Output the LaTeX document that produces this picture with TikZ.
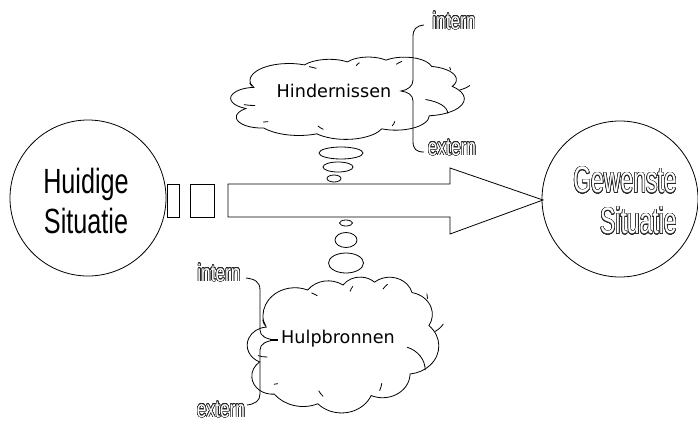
\documentclass[tikz,border=0pt]{standalone}
\usepackage{fontspec}
\setmainfont{Liberation Sans}
\newfontfamily\narrowfont{Liberation Sans}[FakeStretch=0.72]
\newfontfamily\slimfont{Liberation Sans}[FakeStretch=0.62]
\newfontfamily\cloudfont{DejaVu Sans}
\usepackage{contour}
\contourlength{0.55pt}
\contournumber{24}
\usetikzlibrary{shapes.geometric}

% hollow (outlined) lettering
\newcommand{\hollow}[1]{\contour{black!85}{\textcolor{white}{#1}}}

% cloud outline in a 432 x 432 box; #1,#2 = top-left corner, #3,#4 = width, height
\newcommand{\puffcloud}[4]{%
\begin{scope}[shift={(#1,#2)}, x=#3pt/432, y=-#4pt/432]
  \draw[fill=white] (39.00,143.70)
    arc[start angle=-190.49, delta angle=123.78, x radius=67.53, y radius=91.90]
    arc[start angle=-144.10, delta angle=89.95,  x radius=53.33, y radius=72.67]
    arc[start angle=-145.81, delta angle=99.72,  x radius=43.65, y radius=59.45]
    arc[start angle=-130.99, delta angle=117.24, x radius=48.57, y radius=65.95]
    arc[start angle=-78.71,  delta angle=109.03, x radius=53.33, y radius=72.73]
    arc[start angle=-46.27,  delta angle=130.27, x radius=67.75, y radius=92.20]
    arc[start angle=0.625,   delta angle=114.03, x radius=57.85, y radius=78.67]
    arc[start angle=22.45,   delta angle=115.17, x radius=67.52, y radius=92.15]
    arc[start angle=66.24,   delta angle=75.71,  x radius=77.20, y radius=105.43]
    arc[start angle=-274.94, delta angle=146.74, x radius=43.60, y radius=59.18]
    arc[start angle=-246.83, delta angle=152.52, x radius=43.45, y radius=59.45]
    -- cycle;
  % inner creases
  \draw (46.93,261.77) arc[start angle=86.74,   delta angle=26.43, x radius=43.45, y radius=59.45];
  \draw (69.28,348.99) arc[start angle=73.61,   delta angle=11.45, x radius=43.60, y radius=59.18];
  \draw (164.78,390.90) arc[start angle=137.62, delta angle=14.08, x radius=67.52, y radius=92.15];
  \draw (288.27,347.51) arc[start angle=6.45,   delta angle=16.00, x radius=67.52, y radius=92.15];
  \draw (341.29,229.54) arc[start angle=-70.29, delta angle=70.92, x radius=57.85, y radius=78.67];
  \draw (417.98,153.54) arc[start angle=30.32,  delta angle=27.75, x radius=53.33, y radius=72.73];
  \draw (383.24,54.26) arc[start angle=-13.74,  delta angle=14.86, x radius=48.57, y radius=65.95];
  \draw (290.78,39.52) arc[start angle=-149.18, delta angle=18.20, x radius=48.57, y radius=65.95];
  \draw (221.41,47.20) arc[start angle=-163.49, delta angle=17.69, x radius=43.65, y radius=59.45];
  \draw (140.00,51.92) arc[start angle=-66.71,  delta angle=12.32, x radius=67.53, y radius=91.90];
  \draw (41.27,157.89) arc[start angle=157.65,  delta angle=11.86, x radius=67.53, y radius=91.90];
\end{scope}}

\tikzset{
  every path/.style={line width=0.8pt},
  situation/.style={circle, draw, minimum size=156pt, inner sep=0pt},
  bubble/.style={ellipse, draw, inner sep=0pt},
  cloudtext/.style={font=\cloudfont\fontsize{17.6}{20}\selectfont},
  sidelabel/.style={font=\narrowfont\fontsize{24}{26}\selectfont, inner sep=0pt},
}

\begin{document}
\begin{tikzpicture}[x=1pt, y=-1pt]
\useasboundingbox (0,0) rectangle (698,423);

% current and desired situation
\node[situation] (now) at (88,198) {};
\node[align=center, font=\narrowfont\fontsize{35}{40}\selectfont] (nowtext) at (86,201) {Huidige\\Situatie};
\node[situation] (goal) at (620,199) {};
\node[align=right, font=\slimfont\fontsize{37}{41}\selectfont] (goaltext) at (625,201)
  {\hollow{Gewenste}\\\hollow{Situatie}};

% broken block arrow
\node[draw, minimum width=12pt, minimum height=33pt, inner sep=0pt] (blockA) at (173,200.5) {};
\node[draw, minimum width=24pt, minimum height=33pt, inner sep=0pt] (blockB) at (202,200.5) {};
\draw (228,184) coordinate (shaftA) -- (450,184) -- (450,168) -- (543,200) coordinate (tip)
  -- (450,234) -- (450,217) -- (228,217) -- cycle;

% obstacles cloud with thought bubbles
\puffcloud{228}{57}{250}{80}
\node[cloudtext] (obsttext) at (334,91) {Hindernissen};
\node[bubble, minimum width=44pt, minimum height=12pt] (ob1) at (341,153) {};
\node[bubble, minimum width=30pt, minimum height=10pt] (ob2) at (338,167) {};
\node[bubble, minimum width=14pt, minimum height=7pt] (ob3) at (334,178.5) {};

% brace with labels for obstacles
\draw (424,25) .. controls (416,26) and (413,29) .. (413,37) -- (413,80)
  .. controls (413,86) and (408,90) .. (401,91)
  .. controls (408,92) and (413,95) .. (413,101) -- (413,141)
  .. controls (413,149) and (416,152) .. (424,152);
\node[sidelabel] (oin) at (454,21) {\hollow{intern}};
\node[sidelabel] (oex) at (452,148) {\hollow{extern}};

% resources cloud with thought bubbles
\node[bubble, minimum width=13pt, minimum height=6pt] (rb1) at (346,223) {};
\node[bubble, minimum width=22pt, minimum height=15pt] (rb2) at (346,240) {};
\node[bubble, minimum width=35pt, minimum height=20pt] (rb3) at (346,263) {};
\puffcloud{245}{277}{205}{132}
\node[cloudtext] (restext) at (338,339) {Hulpbronnen};

% brace with labels for resources
\draw (246,278) .. controls (255,279) and (260,282) .. (260,290) -- (260,330)
  .. controls (260,336) and (266,339) .. (275,340)
  .. controls (266,341) and (260,344) .. (260,350) -- (260,394)
  .. controls (260,401) and (255,404) .. (247,405);
\draw[line width=1.6pt] (270,340) -- (278,340);
\node[sidelabel] (rin) at (219,273) {\hollow{intern}};
\node[sidelabel] (rex) at (221,410) {\hollow{extern}};
\end{tikzpicture}
\end{document}
